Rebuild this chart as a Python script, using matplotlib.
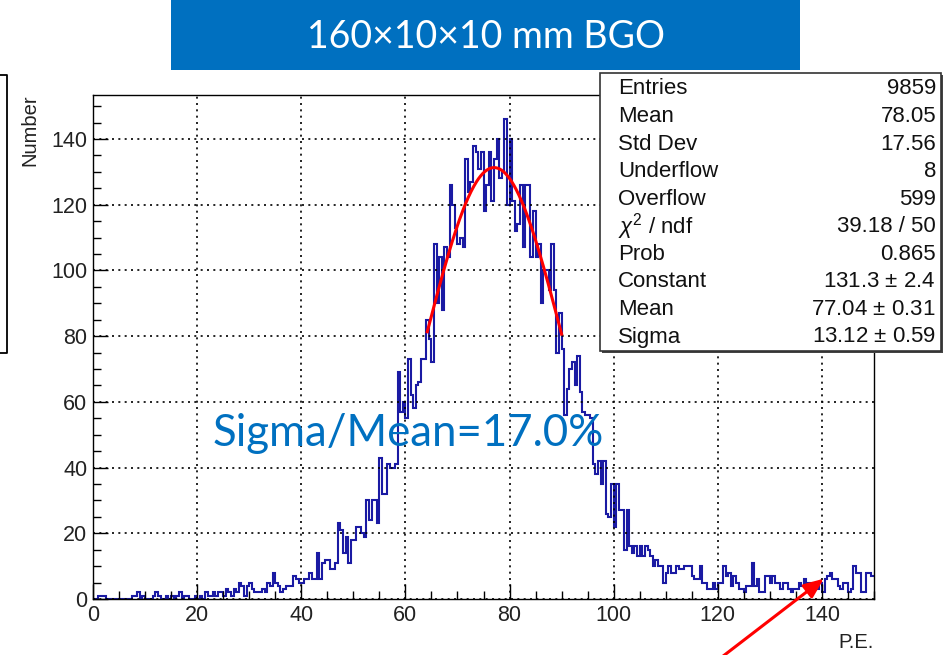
import numpy as np
import matplotlib
matplotlib.use("Agg")
import matplotlib.pyplot as plt
from matplotlib.patches import Rectangle, FancyArrowPatch
from matplotlib.lines import Line2D

# ---- data -------------------------------------------------------------
bin_width = 0.5
x_range = (0.0, 150.0)

# photo-electron spectrum, counts per 0.5 P.E. bin (0 .. 150)
counts_0_20 = [0, 0, 1, 1, 1, 0, 0, 0, 0, 0,
               0, 0, 0, 0, 0, 1, 1, 2, 0, 1,
               0, 0, 0, 1, 2, 1, 0, 0, 1, 0,
               1, 0, 1, 2, 0, 1, 1, 0, 0, 1]
counts_20_36 = [0, 1, 0, 2, 1, 1, 2, 1, 2, 2,
                1, 3, 2, 1, 3, 2, 5, 4, 1, 4,
                5, 3, 2, 2, 2, 3, 2, 5, 4, 8,
                5, 4]
counts_36_60 = [2, 3, 4, 4, 4, 7, 6, 5, 5, 6,
                6, 8, 6, 6, 14, 6, 11, 12, 12, 9,
                9, 11, 23, 21, 14, 19, 11, 18, 18, 22,
                22, 20, 19, 30, 24, 30, 30, 23, 43, 32,
                32, 41, 40, 40, 41, 69, 57, 60]
counts_60_70 = [55, 73, 62, 58, 65, 66, 73, 73, 85, 79,
                72, 108, 90, 104, 88, 107, 104, 126, 120, 113]
counts_70_85 = [108, 110, 107, 134, 124, 127, 138, 136, 131, 136,
                118, 126, 136, 121, 134, 140, 128, 130, 146, 120,
                140, 121, 112, 114, 126, 107, 126, 126, 104, 118]
counts_85_100 = [104, 108, 90, 100, 100, 94, 108, 94, 75, 87,
                 76, 56, 64, 70, 72, 65, 74, 63, 57, 56,
                 56, 55, 41, 38, 42, 35, 42, 26, 25, 35]
counts_100_150 = [22, 35, 27, 27, 15, 27, 16, 14, 16, 13,
                  16, 13, 16, 15, 13, 10, 12, 10, 10, 5,
                  8, 10, 8, 8, 10, 9, 9, 10, 10, 10,
                  7, 6, 6, 10, 5, 5, 3, 3, 5, 3,
                  5, 5, 10, 7, 8, 4, 7, 5, 3, 3,
                  2, 4, 4, 11, 4, 6, 2, 2, 7, 7,
                  5, 7, 5, 5, 3, 5, 5, 3, 2, 3,
                  3, 5, 4, 6, 5, 5, 3, 4, 3, 5,
                  2, 6, 7, 8, 6, 6, 4, 3, 5, 5,
                  2, 3, 10, 8, 8, 2, 2, 8, 8, 7]

counts = np.array(counts_0_20 + counts_20_36 + counts_36_60 + counts_60_70
                  + counts_70_85 + counts_85_100 + counts_100_150, dtype=float)

# Gaussian fit result and fit range
fit_constant = 131.3
fit_mean = 77.04
fit_sigma = 13.12
fit_range = (64.2, 90.0)

stat_labels = ["Entries", "Mean", "Std Dev", "Underflow", "Overflow",
               r"$\chi^{2}$ / ndf", "Prob", "Constant", "Mean", "Sigma"]
stat_values = ["9859", "78.05", "17.56", "8", "599", "39.18 / 50", "0.865",
               r"131.3 $\pm$ 2.4", r"77.04 $\pm$ 0.31", r"13.12 $\pm$ 0.59"]

title_text = "160×10×10 mm BGO"
ratio_text = "Sigma/Mean=17.0%"

# ---- figure -----------------------------------------------------------
W, H = 944, 655
fig = plt.figure(figsize=(W / 100, H / 100), dpi=100)
plt.rcParams["mathtext.fontset"] = "custom"
plt.rcParams["mathtext.rm"] = "Liberation Sans"
plt.rcParams["mathtext.it"] = "Liberation Sans:italic"


def fx(px):
    return px / W


def fy(py):
    return 1 - py / H


ax_l, ax_r, ax_t, ax_b = 93, 874, 95, 599
ax = fig.add_axes([fx(ax_l), fy(ax_b), fx(ax_r) - fx(ax_l), fy(ax_t) - fy(ax_b)])

edges = np.arange(x_range[0], x_range[1] + bin_width / 2, bin_width)
ax.stairs(counts, edges, color="#1a1aa3", linewidth=1.5, baseline=None)

xf = np.linspace(fit_range[0], fit_range[1], 200)
yf = fit_constant * np.exp(-0.5 * ((xf - fit_mean) / fit_sigma) ** 2)
ax.plot(xf, yf, color="#ff0000", linewidth=2.2)

ax.set_xlim(*x_range)
ax.set_ylim(0, 153.4)
ax.set_xticks(np.arange(0, 141, 20))
ax.set_yticks(np.arange(0, 141, 20))
ax.set_xticks(np.arange(0, 151, 5), minor=True)
ax.set_yticks(np.arange(0, 151, 5), minor=True)
ax.tick_params(which="both", direction="in", colors="black", labelsize=15.5,
               labelcolor="#222222", width=1)
ax.tick_params(which="major", length=11)
ax.tick_params(which="minor", length=6)
ax.tick_params(axis="x", pad=4)
ax.tick_params(axis="y", pad=4)
for lab in ax.get_xticklabels() + ax.get_yticklabels():
    lab.set_fontfamily("Liberation Sans")
ax.grid(True, which="major", color="black", linestyle=(0, (1.2, 2.6)), linewidth=1.2)
for sp in ax.spines.values():
    sp.set_linewidth(1.0)

fig.text(fx(30), fy(94), "Number", rotation=90, ha="center", va="top",
         fontsize=14.5, family="Liberation Sans", color="#222222")
fig.text(fx(874), fy(643), "P.E.", ha="right", va="center",
         fontsize=14.5, family="Liberation Sans", color="#222222")

# title banner
fig.patches.append(Rectangle((fx(171), fy(70)), fx(800) - fx(171), fy(0) - fy(70),
                             transform=fig.transFigure, facecolor="#0070c0",
                             edgecolor="none", zorder=5))
fig.text(fx(486), fy(37), title_text, ha="center", va="center", color="white",
         fontsize=27, family="Lato", zorder=6)

# partly visible legend frame on the left edge
fig.add_artist(Line2D([fx(-2), fx(7), fx(7), fx(-2)], [fy(75), fy(75), fy(353), fy(353)],
                      transform=fig.transFigure, color="black", linewidth=1.3))

# statistics box
bx0, by0, bx1, by1 = 600, 73, 941, 351
fig.patches.append(Rectangle((fx(bx0 + 2), fy(by1 + 2)), fx(bx1) - fx(bx0), fy(by0) - fy(by1),
                             transform=fig.transFigure, facecolor="#444444",
                             edgecolor="none", zorder=7))
fig.patches.append(Rectangle((fx(bx0), fy(by1)), fx(bx1) - fx(bx0), fy(by0) - fy(by1),
                             transform=fig.transFigure, facecolor="white",
                             edgecolor="#333333", linewidth=1.2, zorder=8))
row_h = (336 - 88) / (len(stat_labels) - 1)
for i, (lab, val) in enumerate(zip(stat_labels, stat_values)):
    yy = 89 + i * row_h
    fig.text(fx(618), fy(yy), lab, ha="left", va="center", fontsize=16,
             family="Liberation Sans", color="#111111", zorder=9)
    fig.text(fx(936), fy(yy), val, ha="right", va="center", fontsize=16,
             family="Liberation Sans", color="#111111", zorder=9)

fig.text(fx(408), fy(434), ratio_text, ha="center", va="center", color="#0070c0",
         fontsize=31.5, family="Lato", zorder=6)

# red arrow pointing at the overflow region
arrow = FancyArrowPatch((fx(718), fy(660)), (fx(826), fy(577)),
                        transform=fig.transFigure, arrowstyle="-|>,head_length=12,head_width=5",
                        color="#ff0000", linewidth=2.2, zorder=10)
fig.patches.append(arrow)

fig.savefig("out.png", dpi=100)
